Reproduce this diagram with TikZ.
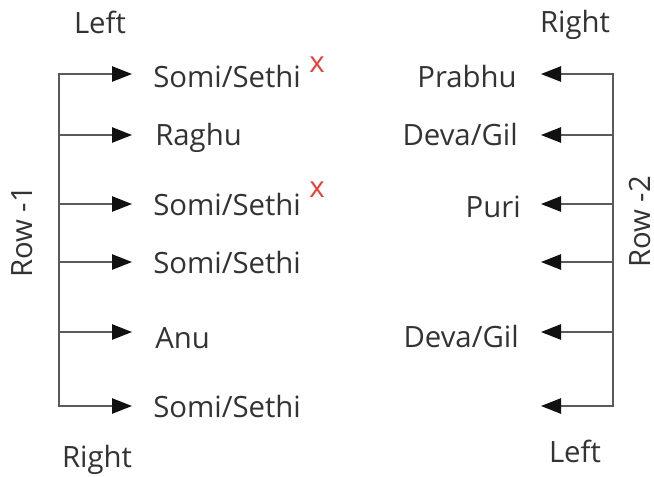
\documentclass[tikz,border=0pt]{standalone}
\usepackage{fontspec}
\setmainfont{Open Sans}
\usetikzlibrary{arrows.meta}
\definecolor{txt}{HTML}{333333}
\definecolor{ln}{HTML}{5A5A5A}
\definecolor{tipc}{HTML}{111111}
\definecolor{markc}{HTML}{E8413B}
\begin{document}
\begin{tikzpicture}[x=0.75pt,y=-0.75pt,
  lbl/.style={inner sep=0pt,text=txt,font=\fontsize{22}{26}\selectfont},
  xmark/.style={lbl,text=markc},
  spine/.style={draw=ln,line width=1.1pt,line cap=rect},
  branch/.style={draw=ln,line width=1.1pt,-{Triangle[length=15pt,width=11.5pt,color=tipc]}}]
\useasboundingbox (0,0) rectangle (654,476);

% spine points and arrow tips
\foreach \i/\y in {1/74,2/135,3/204,4/262,5/332,6/406}{
  \coordinate (L\i) at (59,\y);
  \coordinate (LT\i) at (132,\y);
  \coordinate (R\i) at (613,\y);
  \coordinate (RT\i) at (541,\y);
}
\draw[spine] (L1) -- (L6);
\draw[spine] (R1) -- (R6);
\foreach \i in {1,...,6}{
  \draw[branch] (L\i) -- (LT\i);
  \draw[branch] (R\i) -- (RT\i);
}

% left texts
\node[lbl,anchor=base west] (a1) at (153,87) {Somi/Sethi};
\node[lbl,anchor=base west] (a2) at (155,145) {Raghu};
\node[lbl,anchor=base west] (a3) at (153,215) {Somi/Sethi};
\node[lbl,anchor=base west] (a4) at (153,273) {Somi/Sethi};
\node[lbl,anchor=base west] (a5) at (155,348) {Anu};
\node[lbl,anchor=base west] (a6) at (153,417) {Somi/Sethi};
\node[xmark,anchor=base west] (x1) at (309,72) {x};
\node[xmark,anchor=base west] (x2) at (309,197) {x};

% right texts
\node[lbl,anchor=base east] (b1) at (517,87) {Prabhu};
\node[lbl,anchor=base east] (b2) at (518,145) {Deva/Gil};
\node[lbl,anchor=base east] (b3) at (521,217) {Puri};
\node[lbl,anchor=base east] (b5) at (519,347) {Deva/Gil};

% headings
\node[lbl,anchor=base] (hl) at (100,33) {Left};
\node[lbl,anchor=base] (hr) at (575,32) {Right};
\node[lbl,anchor=base] (fl) at (97,467) {Right};
\node[lbl,anchor=base] (fr) at (575,462) {Left};
\node[lbl,rotate=90] (r1) at (22.5,232) {Row -1};
\node[lbl,rotate=90] (r2) at (640,222) {Row -2};
\end{tikzpicture}
\end{document}
